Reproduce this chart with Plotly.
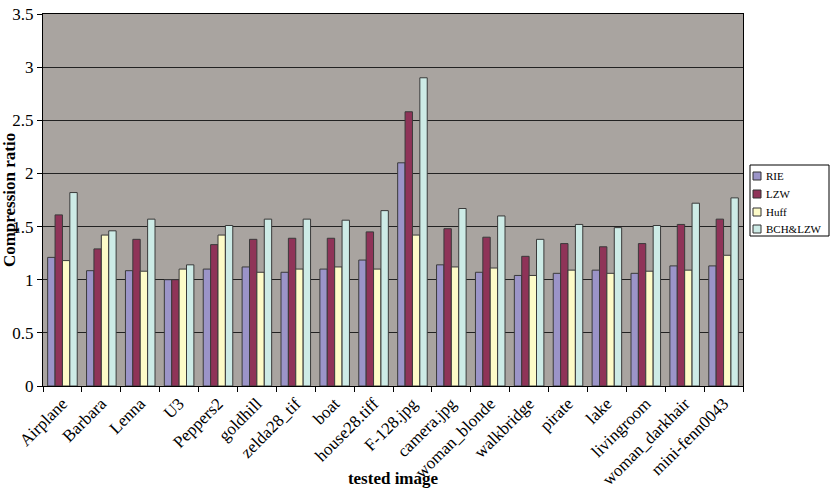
import plotly.graph_objects as go

categories = ["Airplane", "Barbara", "Lenna", "U3", "Peppers2", "goldhill", "zelda28_tif", "boat",
              "house28.tiff", "F-128.jpg", "camera.jpg", "woman_blonde", "walkbridge", "pirate",
              "lake", "livingroom", "woman_darkhair", "mini-fenn0043"]
rie = [1.21, 1.085, 1.085, 1.00, 1.10, 1.12, 1.07, 1.10, 1.185, 2.10, 1.14, 1.07, 1.04, 1.06, 1.09, 1.06, 1.13, 1.13]
lzw = [1.61, 1.29, 1.38, 1.00, 1.33, 1.38, 1.39, 1.39, 1.45, 2.58, 1.48, 1.40, 1.22, 1.34, 1.31, 1.34, 1.52, 1.57]
huff = [1.18, 1.42, 1.08, 1.10, 1.42, 1.07, 1.10, 1.12, 1.10, 1.42, 1.12, 1.11, 1.04, 1.09, 1.06, 1.08, 1.09, 1.23]
bch = [1.82, 1.46, 1.57, 1.14, 1.51, 1.57, 1.57, 1.56, 1.65, 2.90, 1.67, 1.60, 1.38, 1.52, 1.49, 1.51, 1.72, 1.77]

series_names = ["RIE", "LZW", "Huff", "BCH&LZW"]
series_values = [rie, lzw, huff, bch]
series_colors = ["#9b94c8", "#8f3358", "#fdfbc8", "#cdebe6"]

W, H = 830, 488
ML, MR, MT, MB = 43, 87, 14, 102
PW, PH = W - ML - MR, H - MT - MB

def px_x(x):
    return (x - ML) / PW

def px_y(y):
    return (H - MB - y) / PH

fig = go.Figure()
for name, vals, col in zip(series_names, series_values, series_colors):
    fig.add_trace(go.Bar(x=categories, y=vals, name=name, showlegend=False,
                         marker=dict(color=col, line=dict(color="#3a3a3a", width=1))))

font = "Liberation Serif, Times New Roman, serif"

# legend box (drawn manually so it fits in the narrow right margin like the reference)
shapes = [dict(type="rect", xref="paper", yref="paper", x0=px_x(750), x1=px_x(829), y0=px_y(236), y1=px_y(165),
               line=dict(color="black", width=1), fillcolor="white", layer="above")]
annotations = []
row_y = [176, 194, 212, 229]
for name, col, ry in zip(series_names, series_colors, row_y):
    shapes.append(dict(type="rect", xref="paper", yref="paper", x0=px_x(753), x1=px_x(761),
                       y0=px_y(ry + 4), y1=px_y(ry - 4), line=dict(color="#333333", width=1), fillcolor=col,
                       layer="above"))
    annotations.append(dict(xref="paper", yref="paper", x=px_x(764), y=px_y(ry), text=name, showarrow=False,
                            xanchor="left", yanchor="middle", font=dict(size=11, family=font, color="black")))

fig.update_layout(
    width=W, height=H,
    margin=dict(l=ML, r=MR, t=MT, b=MB, autoexpand=False),
    paper_bgcolor="white", plot_bgcolor="#a9a4a0",
    barmode="group", bargap=0.24, bargroupgap=0,
    font=dict(family=font, color="black"),
    showlegend=False,
    shapes=shapes, annotations=annotations,
)
fig.update_xaxes(
    tickangle=-45, tickfont=dict(size=17, family=font), ticks="outside", ticklen=5, tickson="boundaries",
    tickcolor="black", showline=True, linecolor="black", mirror=True,
    title=dict(text="<b>tested image</b>", font=dict(size=17, family=font), standoff=0),
)
fig.update_yaxes(
    range=[0, 3.5], dtick=0.5, tickfont=dict(size=17, family=font), ticks="outside", ticklen=5,
    tickcolor="black", showline=True, linecolor="black", mirror=True,
    showgrid=True, gridcolor="#222222", gridwidth=1, zeroline=False,
    title=dict(text="<b>Compression ratio</b>", font=dict(size=17, family=font), standoff=4),
)
fig.write_html("out.html")
